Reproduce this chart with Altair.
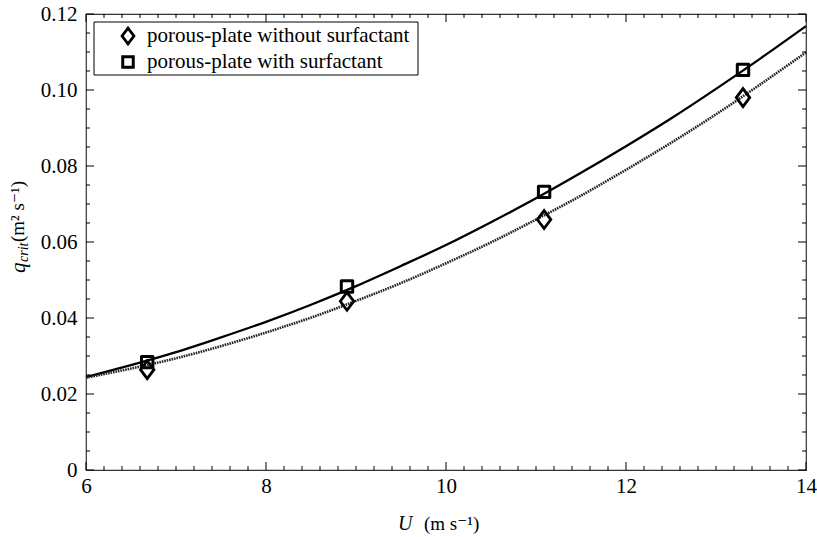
import altair as alt
import pandas as pd
import numpy as np

# ---- data ----
U_fit = [6.0, 6.5, 7.0, 7.5, 8.0, 8.5, 9.0, 9.5, 10.0, 10.5, 11.0, 11.5, 12.0, 12.5, 13.0, 13.5, 14.0]
q_with_fit = [0.0245, 0.0276, 0.0310, 0.0349, 0.0390, 0.0435, 0.0484, 0.0537, 0.0592,
              0.0652, 0.0715, 0.0782, 0.0852, 0.0925, 0.1003, 0.1084, 0.1168]
q_without_fit = [0.0243, 0.0267, 0.0294, 0.0326, 0.0362, 0.0401, 0.0445, 0.0492, 0.0544,
                 0.0599, 0.0659, 0.0722, 0.0790, 0.0861, 0.0936, 0.1016, 0.1099]

U_meas = [6.68, 8.90, 11.09, 13.30]
q_without_meas = [0.0264, 0.0444, 0.0659, 0.0980]
q_with_meas = [0.0284, 0.0483, 0.0732, 0.1053]

x_major = [6, 8, 10, 12, 14]
y_major = [0, 0.02, 0.04, 0.06, 0.08, 0.10, 0.12]
legend_labels = ["porous-plate without surfactant", "porous-plate with surfactant"]

W, H = 720, 456
FONT = "Liberation Serif, Times New Roman, DejaVu Serif, serif"

x_minor = [round(v, 2) for v in np.arange(6, 14.001, 0.2) if abs(v / 2 - round(v / 2)) > 1e-6]
y_minor = [round(v, 3) for v in np.arange(0, 0.1201, 0.005) if abs(v / 0.02 - round(v / 0.02)) > 1e-6]

xs = alt.Scale(domain=[6, 14], nice=False, zero=False)
ys = alt.Scale(domain=[0, 0.12], nice=False)
x_axis = alt.Axis(values=x_major, ticks=False, domain=False, grid=False, title=None,
                  labelFont=FONT, labelFontSize=21, labelPadding=5, labelColor="black",
                  labelFlush=False)
y_axis = alt.Axis(values=y_major, ticks=False, domain=False, grid=False, title=None,
                  labelFont=FONT, labelFontSize=21, labelPadding=9, labelColor="black",
                  labelExpr="datum.value == 0 ? '0' : format(datum.value, '.2f')")

def X():
    return alt.X("U:Q", scale=xs, axis=x_axis)

def Y():
    return alt.Y("q:Q", scale=ys, axis=y_axis)

fit_with = pd.DataFrame({"U": U_fit, "q": q_with_fit})
fit_without = pd.DataFrame({"U": U_fit, "q": q_without_fit})
meas_with = pd.DataFrame({"U": U_meas, "q": q_with_meas})
meas_without = pd.DataFrame({"U": U_meas, "q": q_without_meas})

line_with = alt.Chart(fit_with).mark_line(color="black", strokeWidth=2.3, interpolate="monotone").encode(x=X(), y=Y())
line_without = alt.Chart(fit_without).mark_line(color="#222222", strokeWidth=2.6, strokeDash=[1.6, 0.9],
                                                interpolate="monotone").encode(x=X(), y=Y())

DIAMOND = "M0,-1L0.75,0L0,1L-0.75,0Z"
pts_without = alt.Chart(meas_without).mark_point(shape=DIAMOND, size=320, filled=False, color="black",
                                                 strokeWidth=2.8, opacity=1).encode(x=X(), y=Y())
pts_with = alt.Chart(meas_with).mark_point(shape="square", size=130, filled=False, color="black",
                                           strokeWidth=3, opacity=1, strokeJoin="round").encode(x=X(), y=Y())

# inward ticks on all four sides
xmaj = pd.DataFrame({"U": x_major})
xmin = pd.DataFrame({"U": x_minor})
ymaj = pd.DataFrame({"q": y_major})
ymin = pd.DataFrame({"q": y_minor})

def xticks(df, L):
    b = alt.Chart(df).mark_rule(color="black", strokeWidth=1).encode(x=X(), y=alt.value(H), y2=alt.value(H - L))
    t = alt.Chart(df).mark_rule(color="black", strokeWidth=1).encode(x=X(), y=alt.value(0), y2=alt.value(L))
    return b + t

def yticks(df, L):
    l = alt.Chart(df).mark_rule(color="black", strokeWidth=1).encode(y=Y(), x=alt.value(0), x2=alt.value(L))
    r = alt.Chart(df).mark_rule(color="black", strokeWidth=1).encode(y=Y(), x=alt.value(W), x2=alt.value(W - L))
    return l + r

ticks = xticks(xmaj, 8) + xticks(xmin, 4) + yticks(ymaj, 8) + yticks(ymin, 4)

# legend box
one = pd.DataFrame({"a": [0]})
leg_box = alt.Chart(one).mark_rect(fill="white", stroke="black", strokeWidth=1).encode(
    x=alt.value(8), x2=alt.value(332), y=alt.value(8), y2=alt.value(61))
leg_d = alt.Chart(one).mark_point(shape=DIAMOND, size=250, filled=False, color="black", strokeWidth=2.8, opacity=1).encode(
    x=alt.value(42), y=alt.value(22))
leg_s = alt.Chart(one).mark_point(shape="square", size=110, filled=False, color="black", strokeWidth=3, opacity=1).encode(
    x=alt.value(42), y=alt.value(48))
leg_t1 = alt.Chart(pd.DataFrame({"t": [legend_labels[0]]})).mark_text(
    font=FONT, fontSize=21, align="left", baseline="middle", color="black").encode(
    x=alt.value(61), y=alt.value(22), text="t:N")
leg_t2 = alt.Chart(pd.DataFrame({"t": [legend_labels[1]]})).mark_text(
    font=FONT, fontSize=21, align="left", baseline="middle", color="black").encode(
    x=alt.value(61), y=alt.value(48), text="t:N")

# axis titles
def txt(s, x, y, size=18, style="normal", angle=0, align="left"):
    return alt.Chart(pd.DataFrame({"t": [s]})).mark_text(
        font=FONT, fontSize=size, fontStyle=style, align=align, baseline="middle",
        angle=angle, color="black").encode(x=alt.value(x), y=alt.value(y), text="t:N")

xt = txt("U", 312, 510, 20, "italic") + txt("(m s\u207b\u00b9)", 338, 510, 19)
yt = (txt("q", -67, 259, 21, "italic", angle=270)
      + txt("crit", -62, 248, 14, "italic", angle=270)
      + txt("(m\u00b2 s\u207b\u00b9)", -68, 228, 19, angle=270))

chart = alt.layer(
    line_with, line_without, pts_without, pts_with, ticks,
    leg_box, leg_d, leg_s, leg_t1, leg_t2, xt, yt
).properties(
    width=W, height=H,
    padding={"left": 86, "top": 14, "right": 11, "bottom": 67},
    autosize=alt.AutoSizeParams(type="none"),
    background="white",
).configure_view(stroke="#333333", strokeWidth=1.2)

chart.save("out.html", embed_options={"renderer": "svg", "actions": False})
